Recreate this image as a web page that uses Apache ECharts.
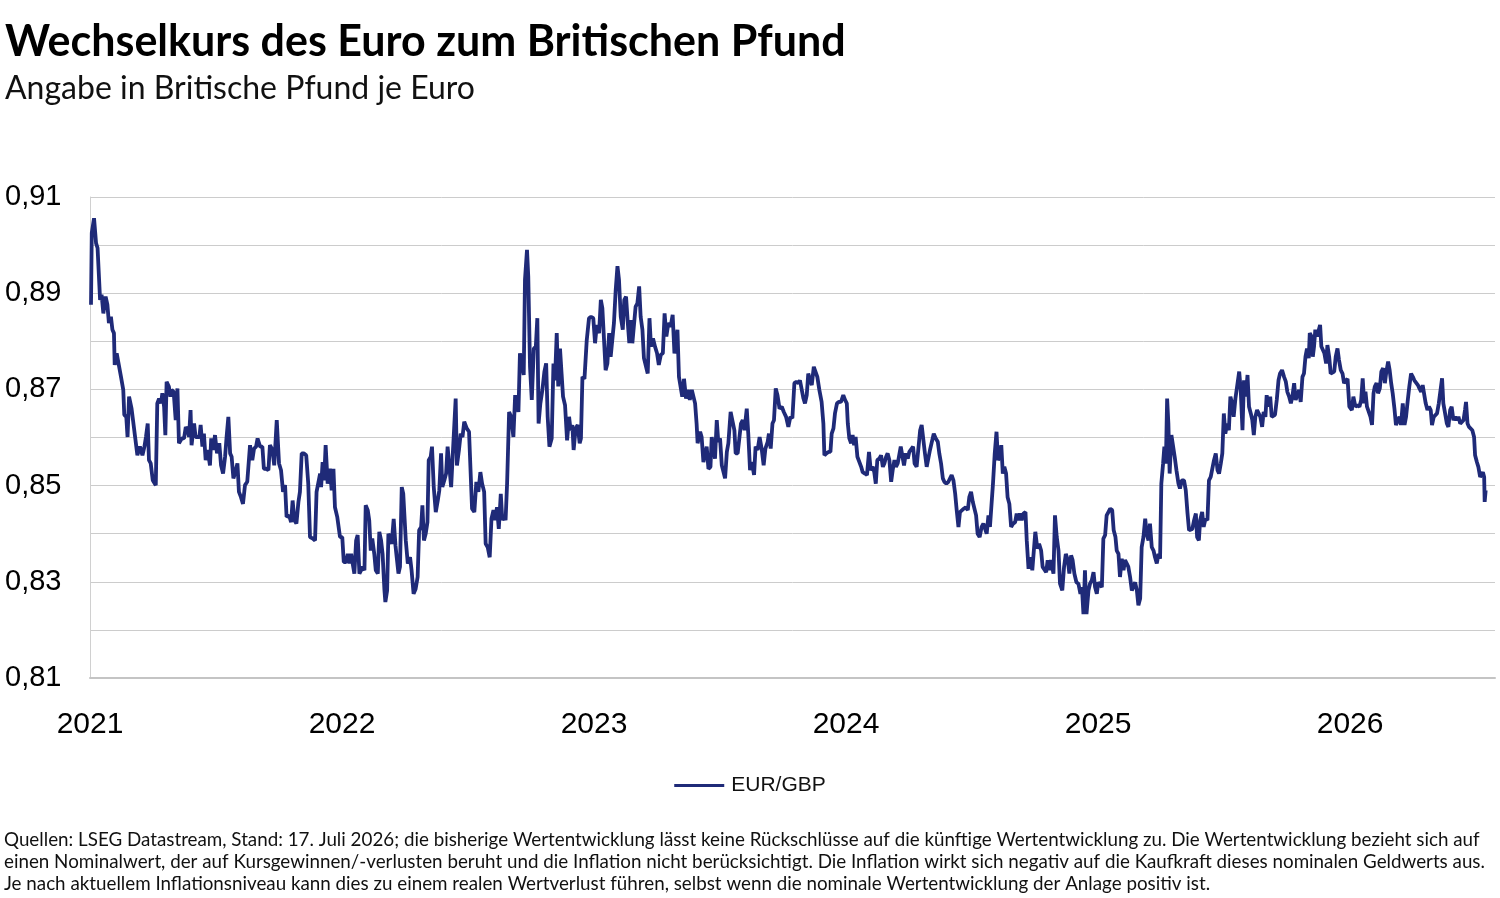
<!DOCTYPE html>
<html lang="de">
<head>
<meta charset="utf-8">
<title>Wechselkurs EUR/GBP</title>
<script src="https://cdn.jsdelivr.net/npm/echarts@6/dist/echarts.min.js"></script>
<style>
  html, body { margin: 0; padding: 0; background: #fff; }
  #chart { width: 1500px; height: 898px; }
</style>
</head>
<body>
<div id="chart"></div>
<script>
// EUR/GBP (decimal year, GBP per EUR)
const years = [
  2021.004, 2021.007, 2021.016, 2021.024, 2021.030, 2021.040, 2021.046, 2021.053, 2021.062, 2021.069,
  2021.075, 2021.083, 2021.089, 2021.095, 2021.098, 2021.106, 2021.112, 2021.123, 2021.132, 2021.136,
  2021.144, 2021.149, 2021.155, 2021.165, 2021.172, 2021.179, 2021.188, 2021.198, 2021.208, 2021.216,
  2021.222, 2021.229, 2021.234, 2021.241, 2021.249, 2021.261, 2021.267, 2021.274, 2021.282, 2021.287,
  2021.294, 2021.299, 2021.304, 2021.313, 2021.319, 2021.324, 2021.332, 2021.340, 2021.347, 2021.353,
  2021.364, 2021.373, 2021.380, 2021.388, 2021.393, 2021.399, 2021.403, 2021.413, 2021.419, 2021.426,
  2021.434, 2021.439, 2021.446, 2021.452, 2021.459, 2021.467, 2021.476, 2021.481, 2021.489, 2021.496,
  2021.504, 2021.513, 2021.520, 2021.528, 2021.536, 2021.542, 2021.549, 2021.556, 2021.562, 2021.569,
  2021.575, 2021.585, 2021.591, 2021.599, 2021.607, 2021.615, 2021.624, 2021.635, 2021.644, 2021.651,
  2021.659, 2021.665, 2021.675, 2021.684, 2021.690, 2021.698, 2021.708, 2021.714, 2021.724, 2021.731,
  2021.741, 2021.750, 2021.758, 2021.766, 2021.774, 2021.780, 2021.790, 2021.798, 2021.804, 2021.811,
  2021.819, 2021.827, 2021.833, 2021.840, 2021.848, 2021.858, 2021.866, 2021.873, 2021.884, 2021.893,
  2021.899, 2021.906, 2021.913, 2021.917, 2021.923, 2021.929, 2021.935, 2021.943, 2021.952, 2021.959,
  2021.966, 2021.972, 2021.981, 2021.992, 2022.001, 2022.007,
  2022.016, 2022.023, 2022.029, 2022.036, 2022.042, 2022.049, 2022.056, 2022.062, 2022.069, 2022.075,
  2022.082, 2022.089, 2022.094, 2022.102, 2022.108, 2022.114, 2022.120, 2022.128, 2022.134, 2022.142,
  2022.148, 2022.155, 2022.161, 2022.168, 2022.172, 2022.179, 2022.184, 2022.190, 2022.197, 2022.205,
  2022.212, 2022.217, 2022.224, 2022.230, 2022.237, 2022.243, 2022.253, 2022.261, 2022.270, 2022.276,
  2022.284, 2022.292, 2022.300, 2022.306, 2022.314, 2022.319, 2022.325, 2022.332, 2022.339, 2022.344,
  2022.352, 2022.357, 2022.364, 2022.372, 2022.380, 2022.386, 2022.393, 2022.398, 2022.406, 2022.413,
  2022.419, 2022.426, 2022.433, 2022.439, 2022.451, 2022.456, 2022.464, 2022.471, 2022.478, 2022.485,
  2022.495, 2022.504, 2022.511, 2022.516, 2022.525, 2022.533, 2022.541, 2022.549, 2022.556, 2022.564,
  2022.570, 2022.578, 2022.586, 2022.593, 2022.601, 2022.607, 2022.615, 2022.622, 2022.630, 2022.636,
  2022.643, 2022.649, 2022.655, 2022.663, 2022.671, 2022.680, 2022.687, 2022.694, 2022.700, 2022.706,
  2022.713, 2022.721, 2022.726, 2022.734, 2022.739, 2022.746, 2022.753, 2022.761, 2022.769, 2022.775,
  2022.780, 2022.787, 2022.795, 2022.803, 2022.810, 2022.816, 2022.823, 2022.832, 2022.839, 2022.845,
  2022.852, 2022.858, 2022.865, 2022.872, 2022.877, 2022.885, 2022.893, 2022.901, 2022.907, 2022.914,
  2022.919, 2022.927, 2022.935, 2022.943, 2022.948, 2022.954, 2022.962, 2022.971, 2022.980, 2022.988,
  2022.997, 2023.004, 2023.011, 2023.020, 2023.027, 2023.033, 2023.040, 2023.046, 2023.053, 2023.060,
  2023.066, 2023.073, 2023.079, 2023.086, 2023.093, 2023.099, 2023.106, 2023.114, 2023.120, 2023.127,
  2023.134, 2023.140, 2023.146, 2023.152, 2023.159, 2023.165, 2023.172, 2023.179, 2023.185, 2023.192,
  2023.198, 2023.205, 2023.213, 2023.220, 2023.226, 2023.234, 2023.242, 2023.250, 2023.257, 2023.265,
  2023.273, 2023.280, 2023.287, 2023.295, 2023.304, 2023.312, 2023.319, 2023.324, 2023.331, 2023.337,
  2023.344, 2023.350, 2023.357, 2023.365, 2023.372, 2023.380, 2023.388, 2023.394, 2023.401, 2023.407,
  2023.411, 2023.421, 2023.427, 2023.434, 2023.440, 2023.447, 2023.454, 2023.462, 2023.467, 2023.475,
  2023.480, 2023.487, 2023.493, 2023.500, 2023.507, 2023.513, 2023.520, 2023.527, 2023.533, 2023.542,
  2023.549, 2023.557, 2023.562, 2023.570, 2023.577, 2023.583, 2023.590, 2023.597, 2023.606, 2023.612,
  2023.619, 2023.626, 2023.635, 2023.641, 2023.649, 2023.657, 2023.665, 2023.673, 2023.680, 2023.689,
  2023.694, 2023.701, 2023.708, 2023.714, 2023.721, 2023.728, 2023.736, 2023.745, 2023.753, 2023.762,
  2023.771, 2023.779, 2023.787, 2023.795, 2023.803, 2023.811, 2023.817, 2023.824, 2023.831, 2023.837,
  2023.844, 2023.850, 2023.857, 2023.864, 2023.872, 2023.878, 2023.886, 2023.894, 2023.903, 2023.910,
  2023.914, 2023.922, 2023.930, 2023.938, 2023.943, 2023.950, 2023.956, 2023.964, 2023.972, 2023.980,
  2023.989, 2023.996, 2024.003, 2024.007, 2024.013, 2024.020, 2024.026, 2024.032, 2024.038, 2024.045,
  2024.052, 2024.060, 2024.066, 2024.075, 2024.083, 2024.091, 2024.098, 2024.106, 2024.112, 2024.118,
  2024.124, 2024.132, 2024.139, 2024.146, 2024.152, 2024.159, 2024.165, 2024.172, 2024.179, 2024.185,
  2024.192, 2024.198, 2024.205, 2024.212, 2024.217, 2024.224, 2024.230, 2024.237, 2024.245, 2024.251,
  2024.258, 2024.266, 2024.272, 2024.280, 2024.287, 2024.294, 2024.300, 2024.307, 2024.313, 2024.320,
  2024.327, 2024.333, 2024.340, 2024.348, 2024.356, 2024.364, 2024.370, 2024.377, 2024.384, 2024.390,
  2024.398, 2024.406, 2024.413, 2024.419, 2024.426, 2024.433, 2024.439, 2024.446, 2024.452, 2024.459,
  2024.467, 2024.475, 2024.483, 2024.489, 2024.496, 2024.503, 2024.509, 2024.516, 2024.522, 2024.530,
  2024.538, 2024.545, 2024.552, 2024.558, 2024.565, 2024.571, 2024.578, 2024.583, 2024.590, 2024.597,
  2024.603, 2024.610, 2024.616, 2024.622, 2024.628, 2024.635, 2024.641, 2024.648, 2024.655, 2024.663,
  2024.671, 2024.677, 2024.684, 2024.690, 2024.697, 2024.704, 2024.712, 2024.717, 2024.724, 2024.731,
  2024.739, 2024.746, 2024.751, 2024.759, 2024.766, 2024.774, 2024.780, 2024.787, 2024.794, 2024.800,
  2024.807, 2024.813, 2024.823, 2024.829, 2024.836, 2024.843, 2024.849, 2024.858, 2024.865, 2024.872,
  2024.880, 2024.886, 2024.893, 2024.899, 2024.906, 2024.914, 2024.922, 2024.930, 2024.936, 2024.942,
  2024.948, 2024.954, 2024.962, 2024.968, 2024.975, 2024.982, 2024.988, 2024.995,
  2025.001, 2025.008, 2025.015, 2025.021, 2025.028, 2025.034, 2025.041, 2025.048, 2025.056, 2025.062,
  2025.069, 2025.074, 2025.081, 2025.087, 2025.094, 2025.101, 2025.107, 2025.114, 2025.120, 2025.127,
  2025.134, 2025.140, 2025.147, 2025.154, 2025.160, 2025.167, 2025.173, 2025.180, 2025.187, 2025.193,
  2025.200, 2025.206, 2025.213, 2025.220, 2025.226, 2025.233, 2025.240, 2025.246, 2025.251, 2025.258,
  2025.263, 2025.269, 2025.274, 2025.279, 2025.284, 2025.291, 2025.298, 2025.304, 2025.311, 2025.319,
  2025.325, 2025.332, 2025.341, 2025.348, 2025.355, 2025.361, 2025.368, 2025.374, 2025.381, 2025.388,
  2025.393, 2025.400, 2025.405, 2025.413, 2025.419, 2025.426, 2025.434, 2025.440, 2025.447, 2025.454,
  2025.460, 2025.467, 2025.474, 2025.480, 2025.487, 2025.493, 2025.499, 2025.505, 2025.512, 2025.519,
  2025.525, 2025.532, 2025.538, 2025.545, 2025.552, 2025.560, 2025.566, 2025.573, 2025.579, 2025.586,
  2025.593, 2025.599, 2025.606, 2025.612, 2025.618, 2025.624, 2025.631, 2025.638, 2025.644, 2025.651,
  2025.657, 2025.664, 2025.669, 2025.676, 2025.683, 2025.689, 2025.696, 2025.702, 2025.709, 2025.716,
  2025.722, 2025.730, 2025.738, 2025.745, 2025.751, 2025.758, 2025.765, 2025.771, 2025.778, 2025.784,
  2025.791, 2025.798, 2025.804, 2025.811, 2025.817, 2025.823, 2025.829, 2025.836, 2025.840, 2025.847,
  2025.852, 2025.857, 2025.862, 2025.869, 2025.876, 2025.881, 2025.886, 2025.892, 2025.898, 2025.905,
  2025.910, 2025.917, 2025.923, 2025.930, 2025.937, 2025.943, 2025.950, 2025.956, 2025.963, 2025.970,
  2025.976, 2025.983, 2025.990, 2025.997,
  2026.007, 2026.013, 2026.021, 2026.029, 2026.037, 2026.044, 2026.050, 2026.056, 2026.061, 2026.067,
  2026.074, 2026.081, 2026.087, 2026.093, 2026.098, 2026.105, 2026.111, 2026.118, 2026.124, 2026.131,
  2026.138, 2026.144, 2026.151, 2026.157, 2026.163, 2026.169, 2026.176, 2026.182, 2026.189, 2026.196,
  2026.202, 2026.209, 2026.216, 2026.222, 2026.229, 2026.235, 2026.242, 2026.249, 2026.255, 2026.262,
  2026.269, 2026.275, 2026.282, 2026.288, 2026.295, 2026.300, 2026.307, 2026.313, 2026.320, 2026.325,
  2026.332, 2026.339, 2026.345, 2026.352, 2026.358, 2026.365, 2026.370, 2026.377, 2026.384, 2026.390,
  2026.397, 2026.403, 2026.410, 2026.417, 2026.423, 2026.430, 2026.437, 2026.443, 2026.450, 2026.456,
  2026.460, 2026.466, 2026.472, 2026.479, 2026.485, 2026.492, 2026.496, 2026.503, 2026.509, 2026.516,
  2026.523, 2026.527, 2026.532, 2026.534, 2026.538
];

const rates = [
  0.8876, 0.9025, 0.9056, 0.9004, 0.8994, 0.8886, 0.8897, 0.8858, 0.8893, 0.8876,
  0.8838, 0.8851, 0.8824, 0.8817, 0.8751, 0.8775, 0.8775, 0.8726, 0.8699, 0.8647,
  0.8643, 0.8601, 0.8685, 0.8660, 0.8664, 0.8601, 0.8563, 0.8581, 0.8563, 0.8581,
  0.8601, 0.8629, 0.8553, 0.8546, 0.8511, 0.8501, 0.8671, 0.8681, 0.8671, 0.8692,
  0.8664, 0.8605, 0.8716, 0.8706, 0.8685, 0.8699, 0.8695, 0.8636, 0.8702, 0.8588,
  0.8598, 0.8598, 0.8622, 0.8615, 0.8601, 0.8657, 0.8584, 0.8629, 0.8601, 0.8605,
  0.8601, 0.8626, 0.8581, 0.8608, 0.8553, 0.8574, 0.8542, 0.8598, 0.8574, 0.8605,
  0.8567, 0.8588, 0.8542, 0.8525, 0.8560, 0.8601, 0.8643, 0.8567, 0.8560, 0.8515,
  0.8525, 0.8546, 0.8487, 0.8476, 0.8462, 0.8501, 0.8508, 0.8584, 0.8553, 0.8577,
  0.8581, 0.8598, 0.8581, 0.8581, 0.8535, 0.8535, 0.8532, 0.8584, 0.8574, 0.8542,
  0.8636, 0.8546, 0.8532, 0.8487, 0.8501, 0.8435, 0.8438, 0.8424, 0.8469, 0.8428,
  0.8421, 0.8466, 0.8487, 0.8567, 0.8567, 0.8563, 0.8504, 0.8393, 0.8390, 0.8386,
  0.8487, 0.8483, 0.8525, 0.8497, 0.8549, 0.8511, 0.8584, 0.8504, 0.8535, 0.8490,
  0.8535, 0.8455, 0.8435, 0.8393, 0.8393, 0.8341,
  0.8341, 0.8358, 0.8338, 0.8358, 0.8355, 0.8317, 0.8386, 0.8397, 0.8317, 0.8313,
  0.8331, 0.8324, 0.8459, 0.8449, 0.8428, 0.8365, 0.8390, 0.8358, 0.8324, 0.8317,
  0.8404, 0.8386, 0.8358, 0.8285, 0.8258, 0.8282, 0.8400, 0.8404, 0.8379, 0.8431,
  0.8376, 0.8351, 0.8317, 0.8331, 0.8497, 0.8483, 0.8386, 0.8338, 0.8351, 0.8324,
  0.8275, 0.8285, 0.8310, 0.8407, 0.8414, 0.8459, 0.8386, 0.8400, 0.8424, 0.8553,
  0.8560, 0.8581, 0.8497, 0.8445, 0.8469, 0.8490, 0.8567, 0.8497, 0.8511, 0.8525,
  0.8581, 0.8539, 0.8497, 0.8560, 0.8681, 0.8542, 0.8574, 0.8608, 0.8601, 0.8633,
  0.8619, 0.8612, 0.8518, 0.8452, 0.8445, 0.8508, 0.8487, 0.8528, 0.8504, 0.8487,
  0.8379, 0.8372, 0.8351, 0.8431, 0.8449, 0.8428, 0.8455, 0.8410, 0.8483, 0.8428,
  0.8438, 0.8428, 0.8504, 0.8653, 0.8643, 0.8601, 0.8688, 0.8671, 0.8653, 0.8775,
  0.8772, 0.8730, 0.8928, 0.8990, 0.8935, 0.8747, 0.8678, 0.8785, 0.8789, 0.8848,
  0.8629, 0.8671, 0.8699, 0.8737, 0.8754, 0.8643, 0.8581, 0.8598, 0.8754, 0.8719,
  0.8817, 0.8706, 0.8785, 0.8781, 0.8685, 0.8667, 0.8594, 0.8643, 0.8615, 0.8626,
  0.8574, 0.8619, 0.8626, 0.8588, 0.8598, 0.8726, 0.8722, 0.8802, 0.8848, 0.8851,
  0.8848, 0.8796, 0.8834, 0.8817, 0.8886, 0.8869, 0.8872, 0.8740, 0.8754, 0.8817,
  0.8768, 0.8772, 0.8838, 0.8907, 0.8956, 0.8928, 0.8851, 0.8824, 0.8886, 0.8893,
  0.8838, 0.8796, 0.8844, 0.8796, 0.8792, 0.8872, 0.8879, 0.8914, 0.8851, 0.8824,
  0.8765, 0.8761, 0.8733, 0.8848, 0.8789, 0.8806, 0.8789, 0.8775, 0.8751, 0.8772,
  0.8775, 0.8858, 0.8810, 0.8838, 0.8831, 0.8855, 0.8775, 0.8789, 0.8824, 0.8726,
  0.8722, 0.8685, 0.8722, 0.8681, 0.8699, 0.8678, 0.8699, 0.8699, 0.8671, 0.8629,
  0.8588, 0.8612, 0.8601, 0.8549, 0.8546, 0.8581, 0.8535, 0.8539, 0.8601, 0.8577,
  0.8556, 0.8636, 0.8591, 0.8598, 0.8542, 0.8539, 0.8515, 0.8570, 0.8588, 0.8653,
  0.8650, 0.8615, 0.8567, 0.8567, 0.8567, 0.8629, 0.8636, 0.8615, 0.8660, 0.8608,
  0.8532, 0.8549, 0.8522, 0.8581, 0.8574, 0.8601, 0.8577, 0.8542, 0.8577, 0.8591,
  0.8608, 0.8577, 0.8629, 0.8636, 0.8702, 0.8688, 0.8660, 0.8664, 0.8653, 0.8643,
  0.8622, 0.8643, 0.8640, 0.8713, 0.8716, 0.8713, 0.8719, 0.8719, 0.8681, 0.8671,
  0.8688, 0.8733, 0.8737, 0.8709, 0.8747, 0.8751, 0.8726, 0.8699, 0.8674, 0.8629,
  0.8563, 0.8567, 0.8570, 0.8570, 0.8608, 0.8619, 0.8650, 0.8671, 0.8674, 0.8674,
  0.8688, 0.8678, 0.8671, 0.8629, 0.8598, 0.8588, 0.8605, 0.8584, 0.8601, 0.8560,
  0.8560, 0.8539, 0.8528, 0.8525, 0.8522, 0.8570, 0.8532, 0.8539, 0.8528, 0.8504,
  0.8553, 0.8556, 0.8563, 0.8539, 0.8546, 0.8560, 0.8567, 0.8553, 0.8508, 0.8532,
  0.8553, 0.8539, 0.8546, 0.8546, 0.8581, 0.8577, 0.8542, 0.8567, 0.8556, 0.8570,
  0.8574, 0.8581, 0.8546, 0.8539, 0.8535, 0.8615, 0.8626, 0.8629, 0.8567, 0.8539,
  0.8539, 0.8574, 0.8577, 0.8608, 0.8598, 0.8591, 0.8567, 0.8546, 0.8515, 0.8508,
  0.8504, 0.8508, 0.8504, 0.8522, 0.8511, 0.8483, 0.8449, 0.8414, 0.8445, 0.8449,
  0.8452, 0.8455, 0.8449, 0.8476, 0.8487, 0.8466, 0.8462, 0.8438, 0.8400, 0.8393,
  0.8414, 0.8421, 0.8421, 0.8400, 0.8438, 0.8414, 0.8417, 0.8504, 0.8567, 0.8612,
  0.8553, 0.8560, 0.8584, 0.8525, 0.8539, 0.8525, 0.8476, 0.8462, 0.8414, 0.8421,
  0.8424, 0.8442, 0.8428, 0.8442, 0.8428, 0.8442, 0.8445, 0.8386, 0.8327, 0.8351,
  0.8324, 0.8327, 0.8404, 0.8369, 0.8379, 0.8365, 0.8331, 0.8327, 0.8320, 0.8345,
  0.8324, 0.8345, 0.8317, 0.8438, 0.8393, 0.8365, 0.8296, 0.8282, 0.8331, 0.8358,
  0.8345, 0.8317, 0.8355, 0.8345, 0.8317, 0.8299, 0.8296, 0.8275, 0.8289, 0.8233,
  0.8324, 0.8233, 0.8282, 0.8296, 0.8303, 0.8320, 0.8289, 0.8275,
  0.8299, 0.8299, 0.8289, 0.8390, 0.8397, 0.8438, 0.8445, 0.8452, 0.8449, 0.8407,
  0.8393, 0.8365, 0.8358, 0.8310, 0.8348, 0.8324, 0.8345, 0.8338, 0.8331, 0.8310,
  0.8282, 0.8282, 0.8299, 0.8282, 0.8251, 0.8265, 0.8372, 0.8393, 0.8431, 0.8400,
  0.8386, 0.8421, 0.8372, 0.8365, 0.8351, 0.8338, 0.8358, 0.8348, 0.8504, 0.8546,
  0.8581, 0.8546, 0.8681, 0.8629, 0.8525, 0.8605, 0.8605, 0.8560, 0.8532, 0.8504,
  0.8494, 0.8511, 0.8511, 0.8490, 0.8442, 0.8407, 0.8407, 0.8410, 0.8428, 0.8442,
  0.8393, 0.8386, 0.8428, 0.8445, 0.8414, 0.8431, 0.8428, 0.8511, 0.8518, 0.8518,
  0.8553, 0.8567, 0.8532, 0.8525, 0.8546, 0.8567, 0.8650, 0.8608, 0.8629, 0.8615,
  0.8685, 0.8671, 0.8643, 0.8681, 0.8685, 0.8737, 0.8699, 0.8615, 0.8719, 0.8685,
  0.8730, 0.8664, 0.8650, 0.8636, 0.8605, 0.8643, 0.8657, 0.8657, 0.8643, 0.8622,
  0.8653, 0.8643, 0.8688, 0.8664, 0.8685, 0.8643, 0.8643, 0.8647, 0.8678, 0.8719,
  0.8733, 0.8740, 0.8726, 0.8716, 0.8695, 0.8685, 0.8671, 0.8685, 0.8713, 0.8678,
  0.8678, 0.8699, 0.8674, 0.8726, 0.8733, 0.8768, 0.8785, 0.8765, 0.8817, 0.8810,
  0.8768, 0.8789, 0.8824, 0.8810, 0.8824, 0.8834, 0.8789, 0.8792, 0.8775, 0.8754,
  0.8792, 0.8768, 0.8733, 0.8737, 0.8737, 0.8768, 0.8785, 0.8761, 0.8740, 0.8733,
  0.8713, 0.8709, 0.8722, 0.8664,
  0.8657, 0.8685, 0.8664, 0.8667, 0.8664, 0.8678, 0.8723, 0.8671, 0.8695, 0.8664,
  0.8664, 0.8643, 0.8626, 0.8692, 0.8706, 0.8713, 0.8692, 0.8702, 0.8737, 0.8744,
  0.8713, 0.8737, 0.8758, 0.8740, 0.8713, 0.8692, 0.8660, 0.8626, 0.8629, 0.8643,
  0.8626, 0.8671, 0.8626, 0.8643, 0.8678, 0.8706, 0.8733, 0.8726, 0.8719, 0.8716,
  0.8709, 0.8702, 0.8695, 0.8709, 0.8709, 0.8671, 0.8657, 0.8664, 0.8657, 0.8626,
  0.8643, 0.8647, 0.8650, 0.8671, 0.8674, 0.8723, 0.8671, 0.8650, 0.8629, 0.8622,
  0.8657, 0.8664, 0.8636, 0.8643, 0.8636, 0.8643, 0.8629, 0.8626, 0.8636, 0.8657,
  0.8674, 0.8629, 0.8622, 0.8622, 0.8615, 0.8601, 0.8563, 0.8549, 0.8539, 0.8518,
  0.8515, 0.8528, 0.8518, 0.8466, 0.8490
];

// y-axis: every hundredth gets a grid line, only odd ones carry a label
const yMin = 0.81;
const yMax = 0.91;
const yStep = 0.01;
const xMin = 2021;
const xMax = 2026.575;

const titleText = 'Wechselkurs des Euro zum Britischen Pfund';
const subtitleText = 'Angabe in Britische Pfund je Euro';
const seriesName = 'EUR/GBP';
const footnote = [
  'Quellen: LSEG Datastream, Stand: 17. Juli 2026; die bisherige Wertentwicklung lässt keine Rückschlüsse auf die künftige Wertentwicklung zu. Die Wertentwicklung bezieht sich auf',
  'einen Nominalwert, der auf Kursgewinnen/-verlusten beruht und die Inflation nicht berücksichtigt. Die Inflation wirkt sich negativ auf die Kaufkraft dieses nominalen Geldwerts aus.',
  'Je nach aktuellem Inflationsniveau kann dies zu einem realen Wertverlust führen, selbst wenn die nominale Wertentwicklung der Anlage positiv ist.'
];

const lineColor = '#1f2a78';
const chart = echarts.init(document.getElementById('chart'), null, { renderer: 'canvas' });

const option = {
  backgroundColor: '#ffffff',
  animation: false,
  textStyle: { fontFamily: 'Liberation Sans, Arial, sans-serif' },
  title: {
    left: 0,
    top: 16,
    text: titleText,
    subtext: subtitleText,
    itemGap: 9,
    textStyle: { fontFamily: 'Lato', fontWeight: 'bold', fontSize: 43, color: '#000' },
    subtextStyle: { fontFamily: 'Lato', fontSize: 32, color: '#111' }
  },
  legend: {
    left: 'center',
    top: 770,
    icon: 'rect',
    itemWidth: 50,
    itemHeight: 3,
    textStyle: { fontSize: 21, color: '#111', padding: [0, 0, 0, 2] },
    data: [seriesName]
  },
  grid: { left: 90, right: 5, top: 197, bottom: 220, containLabel: false },
  xAxis: {
    type: 'value',
    min: xMin,
    max: xMax,
    interval: 1,
    axisLine: { show: true, lineStyle: { color: '#c4c4c4', width: 2 } },
    axisTick: { show: false },
    splitLine: { show: false },
    axisLabel: {
      margin: 32,
      fontSize: 30,
      color: '#000',
      showMaxLabel: false,
      formatter: v => (Math.abs(v - Math.round(v)) < 1e-6 ? String(Math.round(v)) : '')
    }
  },
  yAxis: {
    type: 'value',
    min: yMin,
    max: yMax,
    interval: yStep,
    axisLine: { show: true, lineStyle: { color: '#d0d0d0', width: 1 } },
    axisTick: { show: false },
    splitLine: { show: true, lineStyle: { color: '#cccccc', width: 1 } },
    axisLabel: {
      align: 'left',
      margin: 85,
      fontSize: 29,
      color: '#000',
      formatter: v => {
        const h = Math.round(v * 100);
        return h % 2 === 1 ? (h / 100).toFixed(2).replace('.', ',') : '';
      }
    }
  },
  graphic: [{
    type: 'text',
    left: 4,
    top: 829,
    style: {
      text: footnote.join('\n'),
      font: '18.8px Lato',
      lineHeight: 22,
      fill: '#111'
    }
  }],
  series: [{
    name: seriesName,
    type: 'line',
    showSymbol: false,
    symbol: 'none',
    lineStyle: { color: lineColor, width: 3.8 },
    itemStyle: { color: lineColor },
    data: years.map((y, i) => [y, rates[i]])
  }]
};

chart.setOption(option);
</script>
</body>
</html>
